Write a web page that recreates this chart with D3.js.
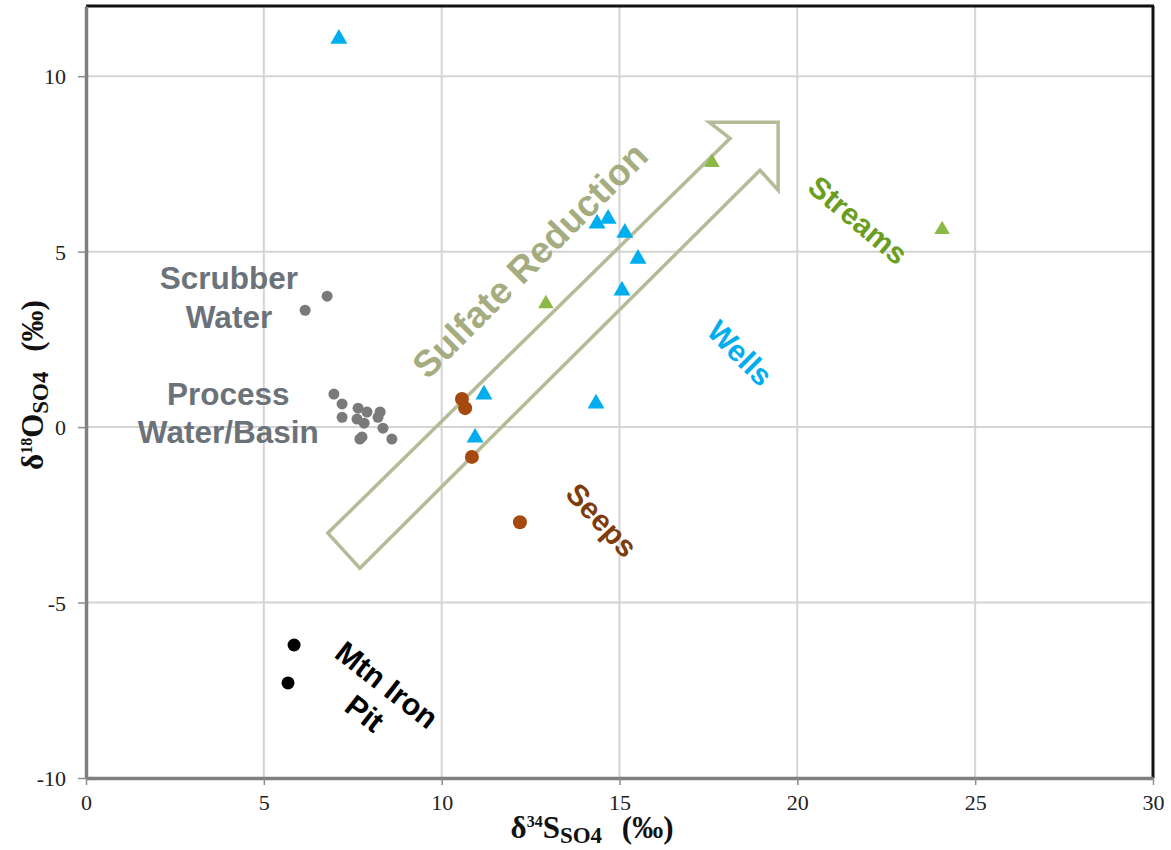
<!DOCTYPE html>
<html>
<head>
<meta charset="utf-8">
<script src="https://cdn.jsdelivr.net/npm/d3@7"></script>
<style>
  html, body { margin: 0; padding: 0; background: #fff; }
  svg { display: block; }
</style>
</head>
<body>
<svg id="chart" width="1171" height="850"></svg>
<script>
// Axis domains and ticks
const xDomain = [0, 30];
const yDomain = [-10, 12];
const xTicks = [0, 5, 10, 15, 20, 25, 30];
const yTicks = [-10, -5, 0, 5, 10];

// δ34S (x) and δ18O (y) per sample group
const wellsX = [7.11, 14.37, 14.68, 15.15, 15.52, 15.07, 14.34, 11.19, 10.94];
const wellsY = [11.11, 5.84, 5.98, 5.58, 4.84, 3.93, 0.71, 0.97, -0.26];

const streamsX = [17.60, 24.07, 12.93];
const streamsY = [7.58, 5.67, 3.56];

const seepsX = [10.57, 10.66, 10.85, 12.20];
const seepsY = [0.80, 0.54, -0.85, -2.71];

const pitX = [5.85, 5.68];
const pitY = [-6.21, -7.29];

const scrubberX = [6.78, 6.16];
const scrubberY = [3.73, 3.33];

const processX = [6.97, 7.20, 7.20, 7.65, 7.90, 7.62, 7.82, 8.27, 8.21, 8.35, 7.76, 7.70, 8.60];
const processY = [0.94, 0.66, 0.28, 0.54, 0.43, 0.23, 0.11, 0.43, 0.28, -0.03, -0.28, -0.34, -0.34];

// Outline of the "Sulfate Reduction" trend arrow (data units)
const arrowX = [6.80, 18.11, 17.52, 19.46, 19.46, 18.95, 7.70];
const arrowY = [-3.02, 8.23, 8.69, 8.69, 6.75, 7.32, -4.02];

const svg = d3.select("#chart");
const plotL = 86, plotR = 1153, plotT = 6, plotB = 778;

const x = d3.scaleLinear().domain(xDomain).range([plotL, plotR]);
const y = d3.scaleLinear().domain(yDomain).range([plotB, plotT]);

// Gridlines
const grid = svg.append("g");
grid.selectAll("line.vx").data(xTicks.filter(t => t > 0 && t < 30)).join("line")
  .attr("x1", d => x(d)).attr("x2", d => x(d))
  .attr("y1", plotT).attr("y2", plotB)
  .attr("stroke", "#d4d4d4").attr("stroke-width", 2);
grid.selectAll("line.hy").data(yTicks.filter(t => t > -10)).join("line")
  .attr("y1", d => y(d)).attr("y2", d => y(d))
  .attr("x1", plotL).attr("x2", plotR)
  .attr("stroke", "#d4d4d4").attr("stroke-width", 2);

// Top and right frame edges
svg.append("line").attr("x1", plotL).attr("x2", plotR + 1).attr("y1", plotT).attr("y2", plotT)
  .attr("stroke", "#111").attr("stroke-width", 3);
svg.append("line").attr("x1", plotR).attr("x2", plotR).attr("y1", plotT).attr("y2", plotB)
  .attr("stroke", "#111").attr("stroke-width", 3);

// Axes (plain hyphen for negative numbers)
const fmt = d => String(d);
const xAxis = svg.append("g").attr("transform", `translate(0,${plotB})`)
  .call(d3.axisBottom(x).tickValues(xTicks).tickFormat(fmt).tickSize(7).tickPadding(9).tickSizeOuter(0));
const yAxis = svg.append("g").attr("transform", `translate(${plotL},0)`)
  .call(d3.axisLeft(y).tickValues(yTicks).tickFormat(fmt).tickSize(8).tickPadding(12).tickSizeOuter(0));

[xAxis, yAxis].forEach(g => {
  g.select(".domain").attr("stroke", "#7f7f7f").attr("stroke-width", 3.5);
  g.selectAll(".tick line").attr("stroke", "#8c8c8c").attr("stroke-width", 1.5);
  g.selectAll(".tick text")
    .attr("font-family", "'Liberation Serif', 'Times New Roman', serif")
    .attr("font-size", 22).attr("fill", "#222");
});
yAxis.selectAll(".tick text").attr("dy", "0.34em");

// Axis titles: δ, small superscript mass number, element, SO4 subscript, units
const serif = "'Liberation Serif', 'Times New Roman', serif";
function axisTitle(sel, sup, letter) {
  sel.attr("text-anchor", "middle")
    .attr("font-family", serif).attr("font-weight", "bold")
    .attr("font-size", 31).attr("fill", "#111");
  sel.append("tspan").text("δ");
  sel.append("tspan").attr("dy", -11).attr("font-size", 16).text(sup);
  sel.append("tspan").attr("dy", 11).text(letter);
  sel.append("tspan").attr("dy", 5).attr("font-size", 23).text("SO4");
  sel.append("tspan").attr("dy", -5).attr("dx", 12).text(" (‰)");
}
axisTitle(svg.append("text").attr("x", 592).attr("y", 838), "34", "S");
axisTitle(svg.append("text").attr("transform", "translate(43,385) rotate(-90)"), "18", "O");

// Trend arrow
const arrowPts = arrowX.map((v, i) => [x(v), y(arrowY[i])]);
svg.append("path")
  .attr("d", d3.line()(arrowPts) + "Z")
  .attr("fill", "none").attr("stroke", "#b4bc97").attr("stroke-width", 3.5)
  .attr("stroke-linejoin", "miter");

// Point layers
const pairs = (xs, ys) => xs.map((v, i) => [v, ys[i]]);

function circles(xs, ys, r, color) {
  svg.append("g").selectAll("circle").data(pairs(xs, ys)).join("circle")
    .attr("cx", d => x(d[0])).attr("cy", d => y(d[1]))
    .attr("r", r).attr("fill", color);
}
function triangles(xs, ys, size, color) {
  const sym = d3.symbol().type(d3.symbolTriangle).size(size);
  svg.append("g").selectAll("path").data(pairs(xs, ys)).join("path")
    .attr("transform", d => `translate(${x(d[0])},${y(d[1]) + 1.5})`)
    .attr("d", sym).attr("fill", color);
}

circles(processX, processY, 5.5, "#7a7a7a");
circles(scrubberX, scrubberY, 5.5, "#7a7a7a");
circles(pitX, pitY, 6.5, "#000");
circles(seepsX, seepsY, 7, "#a5490e");
triangles(streamsX, streamsY, 105, "#8cb845");
triangles(wellsX, wellsY, 125, "#00aeef");

// Group labels
const sans = "'Liberation Sans', Arial, sans-serif";
function label(lines, cx, cy, angle, size, color, lineGap) {
  const t = svg.append("text")
    .attr("transform", `translate(${x(cx)},${y(cy)}) rotate(${angle})`)
    .attr("text-anchor", "middle")
    .attr("font-family", sans).attr("font-weight", "bold")
    .attr("font-size", size).attr("fill", color);
  const n = lines.length;
  lines.forEach((s, i) => {
    t.append("tspan").attr("x", 0)
      .attr("y", (i - (n - 1) / 2) * lineGap)
      .attr("dy", "0.35em").text(s);
  });
}

label(["Scrubber", "Water"], 4.02, 3.69, 0, 31.5, "#6b7279", 39);
label(["Process", "Water/Basin"], 4.0, 0.40, 0, 31.5, "#6b7279", 38);
label(["Sulfate Reduction"], 12.48, 4.76, -45, 37, "#a5ad80", 0);
label(["Streams"], 21.71, 5.90, 40, 30, "#6a9e1f", 0);
label(["Wells"], 18.39, 2.11, 45, 30, "#00aeef", 0);
label(["Seeps"], 14.5, -2.65, 47, 30, "#7e3c0c", 0);
label(["Mtn Iron", "Pit"], 8.15, -7.75, 38, 30.5, "#000", 36);
</script>
</body>
</html>
